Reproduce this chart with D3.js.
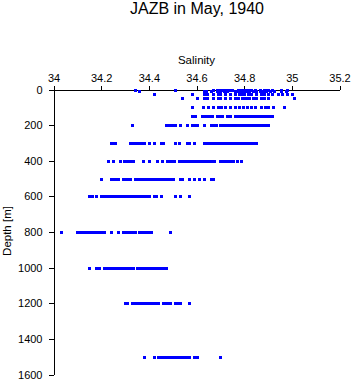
<!DOCTYPE html>
<html>
<head>
<meta charset="UTF-8" />
<title>JAZB in May, 1940</title>
<style>
    body { margin: 0; padding: 0; background: #fff; }
    svg { display: block; font-family: "Liberation Sans", Arial, Helvetica, sans-serif; }
</style>
</head>
<body>
<div class="chart"></div>
<script src="https://cdnjs.cloudflare.com/ajax/libs/d3/7.8.5/d3.min.js"></script>
<script>
    const w = 353;
    const h = 384;

    // salinity readings at each standard depth (m)
    const depths = [0, 10, 25, 50, 100, 150, 200, 300, 400, 500, 600, 800, 1000, 1200, 1500];
    const sal0 = [34.34, 34.51, 34.67, 34.685, 34.695, 34.705, 34.715, 34.725, 34.735, 34.75, 34.775, 34.785, 34.795, 34.80, 34.81, 34.82, 34.83, 34.845, 34.865, 34.885, 34.895, 34.90, 34.915, 34.955, 34.98];
    const sal10 = [34.36, 34.63, 34.64, 34.66, 34.685, 34.70, 34.715, 34.73, 34.76, 34.775, 34.785, 34.80, 34.81, 34.82, 34.835, 34.85, 34.865, 34.88, 34.89, 34.91, 34.925, 34.955, 34.975];
    const sal25 = [34.42, 34.58, 34.63, 34.645, 34.67, 34.69, 34.70, 34.72, 34.74, 34.76, 34.78, 34.79, 34.80, 34.815, 34.83, 34.85, 34.87, 34.885, 34.90, 34.915, 34.94, 34.96, 34.98, 35.00];
    const sal50 = [34.54, 34.60, 34.63, 34.645, 34.67, 34.69, 34.70, 34.72, 34.74, 34.76, 34.775, 34.79, 34.80, 34.81, 34.82, 34.835, 34.85, 34.87, 34.885, 34.90, 35.01];
    const sal100 = [34.58, 34.627, 34.648, 34.669, 34.69, 34.704, 34.718, 34.739, 34.76, 34.78, 34.795, 34.81, 34.828, 34.845, 34.87, 34.887, 34.90, 34.92, 34.968];
    const sal150 = [34.58, 34.595, 34.625, 34.635, 34.645, 34.655, 34.665, 34.685, 34.695, 34.705, 34.727, 34.74, 34.76, 34.775, 34.785, 34.795, 34.805, 34.815, 34.825, 34.835, 34.845, 34.855, 34.866, 34.876, 34.886, 34.896, 34.906, 34.916];
    const sal200 = [34.33, 34.47, 34.48, 34.49, 34.50, 34.51, 34.53, 34.56, 34.58, 34.59, 34.60, 34.63, 34.66, 34.67, 34.68, 34.70, 34.71, 34.72, 34.73, 34.74, 34.75, 34.76, 34.77, 34.78, 34.79, 34.80, 34.81, 34.82, 34.83, 34.84, 34.85, 34.86, 34.87, 34.88, 34.89, 34.90];
    const sal300 = [34.24, 34.25, 34.26, 34.32, 34.33, 34.34, 34.35, 34.36, 34.37, 34.38, 34.40, 34.42, 34.45, 34.46, 34.51, 34.525, 34.56, 34.57, 34.59, 34.63, 34.64, 34.65, 34.66, 34.67, 34.68, 34.69, 34.70, 34.71, 34.72, 34.73, 34.74, 34.75, 34.76, 34.77, 34.78, 34.79, 34.80, 34.81, 34.82, 34.83, 34.84, 34.85];
    const sal400 = [34.23, 34.25, 34.28, 34.295, 34.305, 34.315, 34.325, 34.335, 34.375, 34.40, 34.435, 34.455, 34.475, 34.485, 34.495, 34.505, 34.525, 34.535, 34.545, 34.555, 34.565, 34.575, 34.585, 34.595, 34.605, 34.615, 34.625, 34.635, 34.645, 34.655, 34.665, 34.675, 34.70, 34.71, 34.72, 34.73, 34.74, 34.755, 34.77, 34.785];
    const sal500 = [34.20, 34.24, 34.25, 34.26, 34.27, 34.29, 34.30, 34.31, 34.32, 34.34, 34.35, 34.36, 34.37, 34.38, 34.39, 34.40, 34.41, 34.42, 34.43, 34.44, 34.45, 34.46, 34.47, 34.48, 34.49, 34.50, 34.53, 34.54, 34.567, 34.59, 34.61, 34.63, 34.66, 34.67];
    const sal600 = [34.15, 34.16, 34.18, 34.20, 34.21, 34.22, 34.23, 34.24, 34.25, 34.26, 34.27, 34.28, 34.29, 34.30, 34.31, 34.32, 34.33, 34.34, 34.35, 34.36, 34.37, 34.38, 34.39, 34.40, 34.42, 34.43, 34.45, 34.51, 34.53, 34.57];
    const sal800 = [34.03, 34.10, 34.11, 34.12, 34.13, 34.14, 34.15, 34.16, 34.17, 34.18, 34.19, 34.20, 34.21, 34.24, 34.27, 34.29, 34.30, 34.31, 34.32, 34.33, 34.34, 34.36, 34.37, 34.38, 34.39, 34.40, 34.41, 34.49];
    const sal1000 = [34.15, 34.18, 34.19, 34.21, 34.22, 34.23, 34.24, 34.25, 34.26, 34.27, 34.28, 34.29, 34.30, 34.31, 34.32, 34.335, 34.35, 34.36, 34.37, 34.38, 34.39, 34.40, 34.41, 34.42, 34.43, 34.44, 34.45, 34.46, 34.47];
    const sal1200 = [34.30, 34.31, 34.33, 34.34, 34.35, 34.36, 34.37, 34.38, 34.39, 34.40, 34.41, 34.42, 34.43, 34.44, 34.46, 34.47, 34.48, 34.49, 34.51, 34.52, 34.53, 34.57];
    const sal1500 = [34.38, 34.42, 34.44, 34.45, 34.46, 34.47, 34.48, 34.49, 34.50, 34.51, 34.52, 34.53, 34.54, 34.55, 34.56, 34.57, 34.59, 34.60, 34.70];
    const salRows = [sal0, sal10, sal25, sal50, sal100, sal150, sal200, sal300, sal400, sal500, sal600, sal800, sal1000, sal1200, sal1500];

    const xTicks = [34, 34.2, 34.4, 34.6, 34.8, 35, 35.2];
    const yTicks = [0, 200, 400, 600, 800, 1000, 1200, 1400, 1600];

    const points = [];
    depths.forEach((d, i) => {
        salRows[i].forEach(s => points.push({ s: s, d: d }));
    });

    const svg = d3.select(".chart").append("svg")
        .attr("width", w)
        .attr("height", h);

    const xScale = d3.scaleLinear().domain([34, 35.2]).range([53.5, 339.5]);
    const yScale = d3.scaleLinear().domain([0, 1600]).range([89.5, 374.5]);

    svg.append("text")
        .attr("x", 197)
        .attr("y", 14)
        .attr("text-anchor", "middle")
        .attr("font-size", 16)
        .text("JAZB in May, 1940");

    const xAxis = svg.append("g")
        .attr("transform", "translate(0,89.5)")
        .call(d3.axisTop(xScale).tickValues(xTicks).tickFormat(d3.format("")).tickSize(4).tickSizeOuter(0).tickPadding(4));

    const yAxis = svg.append("g")
        .attr("transform", "translate(53.5,0)")
        .call(d3.axisLeft(yScale).tickValues(yTicks).tickFormat(d3.format("d")).tickSize(5).tickSizeOuter(0).tickPadding(6));

    [xAxis, yAxis].forEach(g => {
        g.selectAll("path, line").attr("stroke", "#000").attr("shape-rendering", "crispEdges");
        g.selectAll("text").attr("font-size", 11).attr("fill", "#000")
            .attr("font-family", "\"Liberation Sans\", Arial, sans-serif");
    });

    svg.append("text")
        .attr("x", 196.5)
        .attr("y", 64)
        .attr("text-anchor", "middle")
        .attr("font-size", 11.5)
        .text("Salinity");

    svg.append("text")
        .attr("transform", "translate(11,231) rotate(-90)")
        .attr("text-anchor", "middle")
        .attr("font-size", 11.5)
        .text("Depth [m]");

    svg.append("g")
        .selectAll("rect")
        .data(points)
        .join("rect")
        .attr("x", d => Math.round(xScale(d.s)) - 1.5)
        .attr("y", d => Math.round(yScale(d.d)) - 1.5)
        .attr("width", 3)
        .attr("height", 3)
        .attr("fill", "#0000ff")
        .attr("shape-rendering", "crispEdges");
</script>
</body>
</html>
